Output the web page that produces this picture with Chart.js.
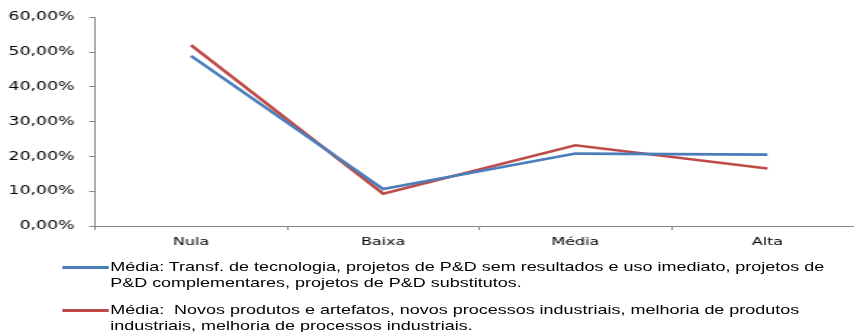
<!DOCTYPE html>
<html>
<head>
<meta charset="utf-8">
<script src="https://cdn.jsdelivr.net/npm/chart.js@4"></script>
<style>
  html, body { margin: 0; padding: 0; background: #fff; overflow: hidden; width: 854px; height: 332px; }
  /* the original picture is stretched sideways, so the whole block is too */
  #wrap { position: relative; width: 610px; height: 332px; transform: scaleX(1.45); transform-origin: 0 0; }
  #legend { position: absolute; left: 0; top: 259px; font-family: "Liberation Sans", Arial, sans-serif; font-size: 12.4px; color: #000; }
  .item { position: relative; line-height: 16px; padding-left: 76px; margin-bottom: 11px; white-space: pre; }
  .swatch { position: absolute; left: 43px; top: 7px; width: 32px; height: 3px; }
</style>
</head>
<body>
<div id="wrap">
  <canvas id="grafico" width="610" height="250"></canvas>
  <div id="legend"></div>
</div>
<script>
// categorias do eixo X
var categorias = ["Nula", "Baixa", "Média", "Alta"];

// series
var mediaTransf = [0.489, 0.106, 0.208, 0.205];
var mediaNovos = [0.520, 0.093, 0.232, 0.165];

// textos da legenda, ja quebrados em linhas como no original
var legendaTransf = ["Média: Transf. de tecnologia, projetos de P&D sem resultados e uso imediato, projetos de",
                     "P&D complementares, projetos de P&D substitutos."];
var legendaNovos = ["Média:  Novos produtos e artefatos, novos processos industriais, melhoria de produtos",
                    "industriais, melhoria de processos industriais."];

var corAzul = "#4a7ebb";
var corVermelho = "#be4b48";
var corEixo = "#868686";

var ctx = document.getElementById("grafico");

var grafico = new Chart(ctx, {
    type: 'line',
    data: {
        labels: categorias,
        datasets: [
            {
                label: legendaTransf.join(" "),
                data: mediaTransf,
                borderColor: corAzul,
                backgroundColor: corAzul,
                borderWidth: 2.6,
                pointRadius: 0,
                tension: 0,
                fill: false
            },
            {
                label: legendaNovos.join(" "),
                data: mediaNovos,
                borderColor: corVermelho,
                backgroundColor: corVermelho,
                borderWidth: 2.6,
                pointRadius: 0,
                tension: 0,
                fill: false
            }
        ]
    },
    options: {
        responsive: false,
        animation: false,
        layout: { padding: { top: 17, right: 14.5, left: 0, bottom: 0 } },
        plugins: {
            legend: { display: false },
            tooltip: { enabled: false }
        },
        scales: {
            x: {
                offset: true,
                grid: {
                    offset: true,
                    drawOnChartArea: false,
                    drawTicks: true,
                    tickLength: 4,
                    color: corEixo
                },
                border: { color: corEixo, width: 1 },
                ticks: {
                    color: "#000",
                    padding: 6,
                    font: { family: "DejaVu Sans", size: 11 }
                },
                afterFit: function(scale) { scale.height = 24; }
            },
            y: {
                min: 0,
                max: 0.6,
                grid: {
                    drawOnChartArea: false,
                    drawTicks: true,
                    tickLength: 4,
                    color: corEixo
                },
                border: { color: corEixo, width: 1 },
                ticks: {
                    stepSize: 0.1,
                    color: "#000",
                    padding: 10,
                    font: { family: "DejaVu Sans", size: 12 },
                    callback: function(v) {
                        return (v * 100).toFixed(2).replace(".", ",") + "%";
                    }
                },
                afterFit: function(scale) { scale.width = 65.5; }
            }
        }
    }
});

// legenda em html (o texto quebra em duas linhas)
var itens = [[legendaTransf, corAzul], [legendaNovos, corVermelho]];
var legenda = document.getElementById("legend");
for (var i in itens) {
    var div = document.createElement("div");
    div.className = "item";
    var sw = document.createElement("span");
    sw.className = "swatch";
    sw.style.background = itens[i][1];
    div.appendChild(sw);
    for (var j in itens[i][0]) {
        var linha = document.createElement("div");
        linha.textContent = itens[i][0][j];
        div.appendChild(linha);
    }
    legenda.appendChild(div);
}
</script>
</body>
</html>
